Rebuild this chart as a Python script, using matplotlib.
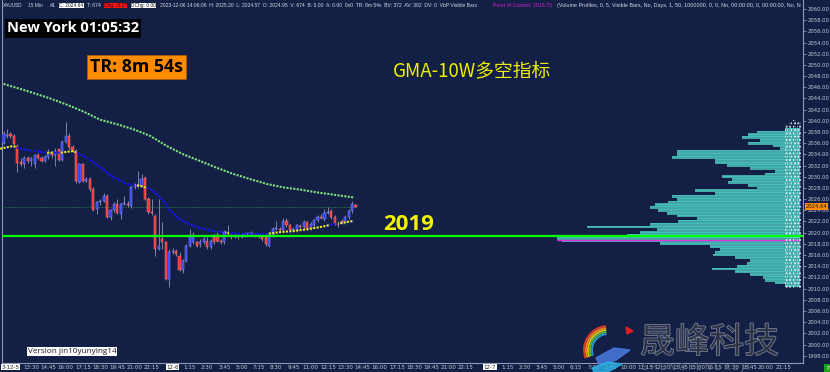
import numpy as np
import matplotlib
matplotlib.use('Agg')
import matplotlib.pyplot as plt
from matplotlib.patches import Rectangle, Arc, Polygon
import matplotlib.patheffects as pe

BG = '#141f45'

# 15 min candles, index = bar number
opens = [2036.1, 2037.2, 2037.6, 2037.3, 2035.5, 2032.6, 2032.2, 2033.3, 2032.8, 2032.2,
         2033.8, 2033.4, 2032.9, 2033.6, 2034.3, 2033.8, 2034.9, 2033.0, 2036.3, 2037.3,
         2035.3, 2034.6, 2029.0, 2032.2, 2029.3, 2029.6, 2027.8, 2024.2, 2025.4, 2025.7,
         2026.6, 2022.8, 2024.0, 2025.1, 2023.3, 2025.1, 2025.2, 2024.8, 2028.1, 2028.6,
         2028.4, 2029.7, 2026.0, 2023.7, 2023.0, 2017.1, 2018.9, 2018.3, 2011.8, 2016.5,
         2016.8, 2015.9, 2013.3, 2015.0, 2017.7, 2018.3, 2018.3, 2018.0, 2018.3, 2018.6,
         2017.4, 2019.5, 2019.5, 2018.6, 2018.3, 2020.0, 2019.5, 2019.3, 2019.4, 2019.3,
         2019.6, 2019.8, 2019.9, 2019.6, 2019.5, 2019.2, 2019.2, 2017.7, 2019.5, 2020.7,
         2020.7, 2020.4, 2022.1, 2021.3, 2020.5, 2020.4, 2021.2, 2021.0, 2021.9, 2020.7,
         2021.3, 2022.2, 2022.8, 2022.4, 2023.6, 2023.9, 2022.8, 2021.6, 2022.1, 2021.8,
         2022.8, 2023.9, 2024.95]
closes = [2037.6, 2037.5, 2037.2, 2035.8, 2032.5, 2032.2, 2033.4, 2032.9, 2033.4, 2033.8,
          2033.4, 2032.9, 2033.6, 2034.3, 2033.8, 2034.6, 2033.0, 2036.3, 2037.3, 2035.3,
          2034.8, 2029.2, 2032.2, 2029.3, 2029.6, 2027.8, 2024.1, 2025.4, 2025.7, 2026.6,
          2022.8, 2024.0, 2025.1, 2023.6, 2025.1, 2025.2, 2025.0, 2028.1, 2028.6, 2028.4,
          2029.6, 2026.0, 2023.7, 2023.5, 2017.1, 2017.7, 2018.3, 2011.8, 2016.5, 2016.8,
          2016.2, 2013.3, 2015.0, 2017.7, 2019.5, 2019.5, 2017.7, 2018.3, 2018.9, 2017.4,
          2018.6, 2018.3, 2018.6, 2018.3, 2020.1, 2019.8, 2019.2, 2019.5, 2019.2, 2019.5,
          2019.8, 2019.9, 2019.7, 2019.5, 2019.4, 2018.9, 2017.9, 2019.5, 2020.7, 2020.8,
          2020.5, 2022.1, 2021.3, 2020.4, 2020.7, 2021.3, 2021.0, 2021.9, 2020.7, 2021.6,
          2022.2, 2022.8, 2022.7, 2023.6, 2023.7, 2022.8, 2021.6, 2021.4, 2021.8, 2022.8,
          2023.9, 2025.1, 2024.64]
highs = [2038.2, 2038.5, 2038.0, 2037.6, 2035.8, 2033.4, 2033.7, 2033.7, 2033.6, 2034.0,
         2034.3, 2033.7, 2033.9, 2034.9, 2034.6, 2035.2, 2035.0, 2036.6, 2039.8, 2037.8,
         2035.6, 2034.9, 2032.5, 2032.5, 2029.9, 2029.9, 2028.1, 2025.7, 2026.0, 2027.1,
         2026.9, 2024.3, 2025.4, 2026.0, 2025.3, 2026.6, 2025.6, 2028.4, 2028.9, 2031.1,
         2030.5, 2030.2, 2026.3, 2026.0, 2023.3, 2026.0, 2021.9, 2018.6, 2017.1, 2017.3,
         2017.1, 2016.5, 2015.3, 2018.0, 2020.7, 2020.1, 2018.6, 2018.9, 2019.5, 2019.2,
         2018.9, 2019.8, 2020.1, 2018.9, 2020.4, 2021.3, 2019.8, 2019.8, 2019.7, 2019.9,
         2020.1, 2020.2, 2020.3, 2019.9, 2019.8, 2019.5, 2019.5, 2019.8, 2021.0, 2022.1,
         2021.0, 2022.7, 2022.7, 2021.6, 2021.0, 2021.6, 2021.5, 2022.2, 2022.1, 2021.9,
         2022.5, 2023.1, 2023.4, 2024.2, 2024.6, 2024.2, 2023.1, 2022.0, 2022.4, 2023.1,
         2024.2, 2025.7, 2025.20]
lows = [2035.9, 2036.9, 2036.9, 2035.5, 2030.8, 2031.9, 2031.5, 2032.4, 2031.9, 2031.6,
        2033.1, 2032.6, 2032.6, 2033.2, 2033.4, 2032.0, 2032.8, 2032.8, 2036.0, 2035.0,
        2034.4, 2028.9, 2028.9, 2029.0, 2029.0, 2027.5, 2023.9, 2023.3, 2025.0, 2025.4,
        2022.6, 2022.2, 2023.7, 2023.3, 2022.5, 2024.9, 2024.6, 2024.5, 2027.8, 2028.0,
        2028.1, 2025.8, 2023.4, 2023.2, 2015.9, 2016.9, 2017.1, 2011.5, 2010.3, 2016.2,
        2015.8, 2013.2, 2012.8, 2014.7, 2017.4, 2018.0, 2017.4, 2017.5, 2018.0, 2017.1,
        2017.1, 2018.0, 2018.3, 2018.0, 2018.0, 2019.5, 2018.9, 2019.0, 2018.9, 2019.0,
        2019.3, 2019.5, 2019.4, 2019.2, 2019.0, 2018.6, 2017.6, 2017.4, 2019.2, 2020.4,
        2020.2, 2020.2, 2021.0, 2020.1, 2020.2, 2020.1, 2020.7, 2020.7, 2020.4, 2020.4,
        2021.0, 2021.9, 2022.4, 2022.1, 2023.3, 2022.5, 2021.3, 2021.0, 2021.5, 2021.5,
        2022.5, 2023.6, 2024.57]

# slow green MA (read every few bars)
gma_x = [0, 7, 13.5, 18.3, 23, 28, 32.8, 37.6, 42.5, 47.3, 52.1, 57, 61.8, 66.6, 71.4,
         76.3, 81.1, 86, 90.8, 95.6, 101.4]
gma_y = [2046.6, 2045.3, 2044.0, 2042.9, 2041.7, 2040.2, 2039.4, 2038.5, 2037.3, 2035.5,
         2034.0, 2032.8, 2031.6, 2030.5, 2029.6, 2028.7, 2028.1, 2027.7, 2027.2, 2026.8, 2026.3]

# fast MA, blue when falling / yellow when rising
ma_x = [-1, 2.8, 4.8, 8.6, 12.5, 16.4, 20.2, 22.2, 24.1, 28, 31.8, 35.7, 39.6, 42.5, 44.4,
        46.3, 48.3, 51.2, 54, 57, 60.8, 64.7, 68.5, 72.4, 76.3, 80.1, 84, 87.9, 91.7, 95.6,
        98.5, 101.4]
ma_y = [2035.0, 2035.5, 2035.0, 2034.6, 2034.3, 2034.3, 2034.6, 2034.0, 2033.4, 2031.7,
        2029.9, 2028.7, 2028.4, 2027.8, 2026.9, 2025.7, 2023.9, 2022.3, 2021.5, 2020.8,
        2020.3, 2020.0, 2019.8, 2019.8, 2019.8, 2020.1, 2020.3, 2020.6, 2021.0, 2021.5,
        2021.8, 2022.1]
yellow_spans = [(-1, 3.5), (12.5, 14.5), (16.5, 21), (38, 41.5), (64.3, 65.2), (76.5, 94.5), (96.8, 102)]

# volume profile of visible bars
prof_levels = [2038.5, 2038.0, 2037.5, 2037.0, 2036.5, 2036.0, 2035.5, 2035.0, 2034.5, 2034.0,
               2033.5, 2033.0, 2032.5, 2032.0, 2031.5, 2031.0, 2030.5, 2030.0, 2029.5, 2029.0,
               2028.5, 2028.0, 2027.5, 2027.0, 2026.5, 2026.0, 2025.5, 2025.0, 2024.5, 2024.0,
               2023.5, 2023.0, 2022.5, 2022.0, 2021.5, 2021.0, 2020.5, 2020.0, 2019.5, 2019.0,
               2018.5, 2018.0, 2017.5, 2017.0, 2016.5, 2016.0, 2015.5, 2015.0, 2014.5, 2014.0,
               2013.5, 2013.0, 2012.5, 2012.0, 2011.5, 2011.0, 2010.5]
prof_vol = [15, 43, 52, 58, 40, 52, 27, 20, 123, 123, 128, 85, 85, 73, 50, 25, 35, 78, 68, 72,
            52, 43, 105, 85, 128, 123, 132, 145, 150, 142, 133, 123, 103, 122, 150, 213, 143, 160,
            173, 243, 238, 140, 90, 80, 85, 87, 65, 50, 53, 63, 88, 65, 50, 37, 35, 25, 15]
poc = 2018.75
last_price = 2024.64
user_level = 2019.4

tick_pos = [2, 8, 13, 18, 23, 28, 33, 38, 43, 49, 54, 59, 64, 69, 74, 79, 84, 89, 94, 99,
            104, 109, 114, 119, 124, 129, 134, 141, 146, 151, 156, 161, 166, 171, 176, 181,
            186, 191, 196, 201, 206, 211, 216, 221, 226]
tick_lab = ['3-12-5', '13:30', '14:45', '16:00', '17:15', '18:30', '19:45', '21:00', '22:15',
            '12-6', '1:15', '2:30', '3:45', '5:00', '7:15', '8:30', '9:45', '11:00', '12:15',
            '13:30', '14:45', '16:00', '17:15', '18:30', '19:45', '21:00', '22:15', '12-7',
            '1:15', '2:30', '3:45', '5:00', '6:15', '7:30', '8:45', '10:00', '11:15', '12:30',
            '13:45', '15:00', '16:15', '17:30', '18:45', '20:00', '21:15']

W, H = 830, 372
fig = plt.figure(figsize=(W / 100, H / 100), dpi=100)
fig.patch.set_facecolor(BG)
ax = fig.add_axes([2 / W, 9 / H, 801 / W, 363 / H])
ax.set_facecolor(BG)
ax.set_xlim(-0.45, 231.7)
ax.set_ylim(1996.7, 2061.6)
renderer = fig.canvas.get_renderer()


def fit(t, width_px):
    # shrink / grow a text so that it spans the width seen in the screenshot
    for _ in range(3):
        bb = t.get_window_extent(renderer)
        t.set_fontsize(t.get_fontsize() * width_px / bb.width)
    return t


PR = 230.9  # right end of profile
PX = 3.45   # pixels per bar

# volume profile
vol = np.array(prof_vol) / PX
lev = np.array(prof_levels)
ax.barh(lev, vol, left=PR - vol, height=0.5, color='#44a6a4', zorder=2)
ax.hlines(lev + 0.2, PR - vol, PR, colors='#3fdede', lw=0.45, alpha=0.7, zorder=2)
ax.hlines(poc, PR - 243 / PX, PR, colors='#e22ee2', lw=1.0, zorder=3)
for x0, top in [(226.4, 2039.4), (227.6, 2039.9), (228.8, 2040.2), (230.0, 2039.8)]:
    ax.add_patch(Rectangle((x0, 2010.0), 1.0, top - 2010.0, fill=False, hatch='.....',
                           edgecolor='#e6eef4', lw=0, zorder=3))

# candles
x = np.arange(len(opens))
o = np.array(opens); c = np.array(closes)
up = c >= o
ax.vlines(x, lows, highs, colors='#8e95ad', lw=0.6, zorder=4)
body_lo = np.minimum(o, c)
body_h = np.maximum(np.abs(c - o), 0.12)
ax.bar(x[up], body_h[up], bottom=body_lo[up], width=0.62, color='#2f3ff0',
       edgecolor='#8c98ff', lw=0.35, zorder=5)
ax.bar(x[~up], body_h[~up], bottom=body_lo[~up], width=0.62, color='#f03535',
       edgecolor='#ff7a7a', lw=0.35, zorder=5)

# lines
ax.hlines(last_price, -0.4, 102.5, colors='#1d7a3c', lw=0.7, linestyles=(0, (1.5, 1.5)), zorder=3)
ax.plot(gma_x, gma_y, color='#7ee27e', lw=1.5, ls=(0, (1, 0.65)), dash_capstyle='butt', zorder=6)
ax.plot(ma_x, ma_y, color='#1414ff', lw=1.5, ls=(0, (1, 0.65)), dash_capstyle='butt', zorder=6)
for a, b in yellow_spans:
    ln, = ax.plot(ma_x, ma_y, color='#f2f200', lw=1.5, ls=(0, (1, 0.65)),
                  dash_capstyle='butt', zorder=7)
    clip = Rectangle((a, 1990), b - a, 80, transform=ax.transData, visible=False)
    ax.add_patch(clip)
    ln.set_clip_path(clip)
ax.axhline(user_level, color='#00ff00', lw=1.6, zorder=8)

# axes styling
ax.spines['top'].set_visible(False)
for s in ['left', 'right', 'bottom']:
    ax.spines[s].set_color('#8f98b4')
    ax.spines[s].set_linewidth(0.8)
ax.yaxis.tick_right()
yt = np.arange(1998, 2061, 2)
ax.set_yticks(yt)
ax.set_yticklabels(['%.2f' % v for v in yt])
ax.tick_params(axis='y', colors='#8f98b4', labelcolor='#c3c9d8', labelsize=4.3,
               length=2, width=0.6, pad=1.0)
ax.set_xticks(tick_pos)
ax.set_xticklabels(tick_lab)
ax.tick_params(axis='x', colors='#8f98b4', labelcolor='#c3c9d8', labelsize=4.0,
               length=0, pad=1.2)
for t in ax.get_xticklabels():
    if '-' in t.get_text():
        t.set_color('#222222')
        t.set_bbox(dict(facecolor='white', edgecolor='none', pad=0.4))
# y labels span about 807..829 px
ylabs = ax.get_yticklabels()
bb = ylabs[-1].get_window_extent(renderer)
ax.tick_params(axis='y', labelsize=4.3 * 21.5 / bb.width)

# price tag
ax.text(1.003, last_price, '2024.64', transform=ax.get_yaxis_transform(),
        fontsize=ylabs[0].get_fontsize(), color='#1a1a1a', va='center', ha='left',
        bbox=dict(facecolor='#ff8c00', edgecolor='none', pad=0.6), zorder=10, clip_on=False)

# header
hy = 1 - 5.5 / H
hf = 'Liberation Sans'


def htxt(px, s, wpx, **kw):
    t = fig.text(px / W, hy, s, fontsize=4, family=hf, va='center', ha='left', **kw)
    return fit(t, wpx)


hc = '#d6dae4'
htxt(3, 'XAUUSD', 20, color=hc)
htxt(28, '15 Min', 14, color=hc)
htxt(50, '#1', 6, color=hc)
htxt(59, 'C: 2024.64', 24, color='#111111', bbox=dict(facecolor='white', edgecolor='none', pad=0.4))
htxt(87, 'T: 674', 14, color=hc)
htxt(104, 'Chg: -0.27', 23, color='#111111', bbox=dict(facecolor='#ff1010', edgecolor='none', pad=0.4))
htxt(131, 'DChg: 0.00', 24, color='#111111', bbox=dict(facecolor='white', edgecolor='none', pad=0.4))
htxt(160, '2023-12-06 14:06:06  H: 2025.20  L: 2024.57  O: 2024.95  V: 674  B: 0.00  A: 0.00  0x0  '
          'TR: 8m 54s  BV: 372  AV: 302  DV: 0  VbP Visible Bars', 318, color=hc)
htxt(493, 'Point of Control: 2018.75', 59, color='#d020d0')
htxt(557, '(Volume Profiles, 0, 5, Visible Bars, No, Days, 1, 50, 1000000, 0, 0, No, 00:00:00, 0, '
          '00:00:00, No, N', 244, color=hc)

# labels on chart
t = fig.text(7 / W, 1 - 28.5 / H, 'New York 01:05:32', fontsize=9.8, family='Open Sans',
             weight='bold', color='white', va='center', ha='left',
             bbox=dict(facecolor='black', edgecolor='none', pad=1.4))
fit(t, 131)
t = fig.text(90 / W, 1 - 67 / H, 'TR: 8m 54s', fontsize=12.5, family='Open Sans',
             weight='bold', color='black', va='center', ha='left',
             bbox=dict(facecolor='#ff8c00', edgecolor='#b06000', lw=0.5, pad=2.2))
fit(t, 93)
fig.text(393 / W, 1 - 71 / H, 'GMA-10W多空指标', fontsize=13.5,
         family=['Noto Sans CJK SC', 'DejaVu Sans'], color='#eeee00', va='center', ha='left')
fig.text(383 / W, 1 - 225 / H, '2019', fontsize=16, family='Open Sans', weight='bold',
         color='#f2f200', va='center', ha='left')
t = fig.text(28 / W, 1 - 351.5 / H, 'Version jin10yunying14', fontsize=5.6, family='Open Sans',
             color='#1a1a1a', va='center', ha='left',
             bbox=dict(facecolor='white', edgecolor='none', pad=0.5))
fit(t, 87)
fig.text(827 / W, 1 - 368 / H, '7', fontsize=4.5, color='white', va='center', ha='center',
         bbox=dict(facecolor='#1aa01a', edgecolor='none', pad=0.8))

# watermark
fig.text(640 / W, 1 - 343 / H, '晟峰科技', fontsize=25, family=['Noto Sans CJK SC'],
         color='#2c3244', alpha=0.92, va='center', ha='left',
         path_effects=[pe.withStroke(linewidth=1.0, foreground='#8a92a4')], zorder=20)
fig.text(642 / W, 1 - 368 / H, 'S H E N G F E N G K E J I', fontsize=6.5, color='#6a7284',
         va='center', ha='left', zorder=20)
lax = fig.add_axes([578 / W, 0, 56 / W, 52 / H])
lax.set_xlim(0, 56); lax.set_ylim(0, 52)
lax.axis('off')
for r, col in zip([24, 22, 20, 18, 16], ['#e03a2a', '#f08a20', '#d8c820', '#50b848', '#2a9ad8']):
    lax.add_patch(Arc((30, 22), 2 * r, 2 * r, theta1=95, theta2=200, color=col, lw=1.3))
lax.add_patch(Polygon([[48, 45], [55, 41], [49, 38]], closed=True, color='#e02020'))
lax.add_patch(Polygon([[18, 14], [36, 24], [52, 22], [38, 12], [22, 6]], closed=True,
                      color='#4a7ae0', alpha=0.85))
lax.add_patch(Polygon([[14, 4], [30, 10], [44, 8], [30, 0], [16, 0]], closed=True,
                      color='#2ab0e0', alpha=0.85))

fig.savefig('out.png', dpi=100, facecolor=BG)
